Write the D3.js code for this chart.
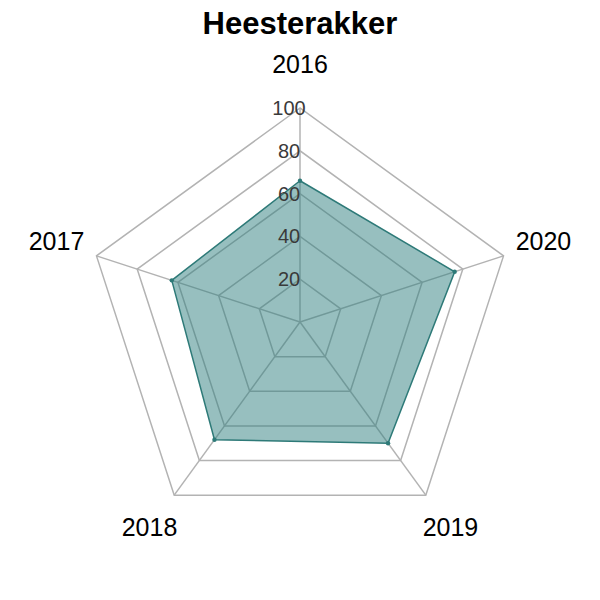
<!DOCTYPE html>
<html>
<head>
<meta charset="UTF-8">
<script src="https://d3js.org/d3.v7.min.js"></script>
<style>
  body { margin: 0; font-family: "Liberation Sans", Arial, sans-serif; background: #fff; }
</style>
</head>
<body>
<svg width="600" height="600"></svg>
<script>
const years = ["2016", "2017", "2018", "2019", "2020"];
const values = [66, 63, 68, 70, 76];
const ticks = [20, 40, 60, 80, 100];

const svg = d3.select("svg");
const cx = 300, cy = 322, R = 214;

const r = d3.scaleLinear().domain([0, 100]).range([0, R]);
// angle for axis i, counterclockwise from top
const ang = d3.scaleLinear().domain([0, years.length]).range([0, -2 * Math.PI]);
const pt = (i, v) => [cx + r(v) * Math.sin(ang(i)), cy - r(v) * Math.cos(ang(i))];

const line = d3.line().curve(d3.curveLinearClosed);

// grid rings
svg.selectAll(".ring")
  .data(ticks)
  .enter().append("path")
  .attr("d", t => line(years.map((y, i) => pt(i, t))))
  .attr("fill", "none")
  .attr("stroke", "#b3b3b3")
  .attr("stroke-width", 1.5);

// spokes
svg.selectAll(".spoke")
  .data(years)
  .enter().append("line")
  .attr("x1", cx).attr("y1", cy)
  .attr("x2", (d, i) => pt(i, 100)[0])
  .attr("y2", (d, i) => pt(i, 100)[1])
  .attr("stroke", "#b3b3b3")
  .attr("stroke-width", 1.5);

// data polygon
svg.append("path")
  .attr("d", line(values.map((v, i) => pt(i, v))))
  .attr("fill", "#2f7f7f")
  .attr("fill-opacity", 0.5)
  .attr("stroke", "#2e7a78")
  .attr("stroke-width", 1.5);

svg.selectAll(".dot")
  .data(values)
  .enter().append("circle")
  .attr("cx", (v, i) => pt(i, v)[0])
  .attr("cy", (v, i) => pt(i, v)[1])
  .attr("r", 2.2)
  .attr("fill", "#2e7a78");

// tick labels
svg.selectAll(".tick")
  .data(ticks)
  .enter().append("text")
  .attr("x", 289)
  .attr("y", t => cy - r(t) + 7)
  .attr("text-anchor", "middle")
  .attr("font-size", 20)
  .attr("fill", "#3a3a3a")
  .text(t => t);

// axis labels
svg.selectAll(".lab")
  .data(years)
  .enter().append("text")
  .attr("x", (d, i) => cx + 256 * Math.sin(ang(i)))
  .attr("y", (d, i) => cy - 256 * Math.cos(ang(i)))
  .attr("text-anchor", "middle")
  .attr("dominant-baseline", "middle")
  .attr("font-size", 25)
  .attr("fill", "#000")
  .text(d => d);

svg.append("text")
  .attr("x", 300).attr("y", 34)
  .attr("text-anchor", "middle")
  .attr("font-size", 31)
  .attr("font-weight", "bold")
  .text("Heesterakker");
</script>
</body>
</html>
